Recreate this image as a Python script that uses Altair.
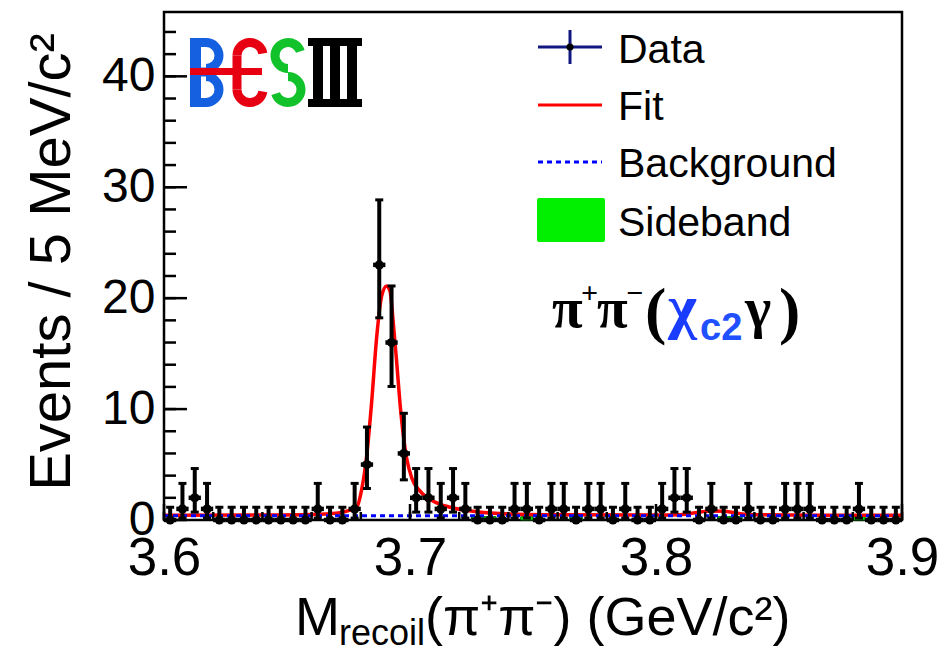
import math
import altair as alt
import pandas as pd

# ---------------- data ----------------
BIN_W = 0.005
MASS = [round(3.6025 + BIN_W * i, 4) for i in range(60)]  # bin centres (GeV/c^2)
COUNTS = [0, 1, 2, 1, 0, 0, 0, 0, 0, 0,
          0, 0, 1, 0, 0, 1, 5, 23, 16, 6,
          2, 2, 1, 2, 1, 0, 0, 0, 1, 1,
          0, 1, 1, 0, 1, 1, 0, 1, 0, 0,
          1, 2, 2, 0, 1, 0, 0, 1, 0, 0,
          1, 1, 1, 0, 0, 0, 1, 0, 0, 0]
# asymmetric error bars (lower, upper), by bin content
ERR = {0: (0.0, 1.15), 1: (0.83, 2.30), 2: (1.29, 2.64), 5: (2.16, 3.38),
       6: (2.38, 3.62), 16: (3.96, 5.10), 23: (4.77, 5.86)}

FIT_X = [3.600, 3.640, 3.660, 3.670, 3.675, 3.6783, 3.6804, 3.6824, 3.6844, 3.6865,
         3.6885, 3.6905, 3.6919, 3.6932, 3.6946, 3.6959, 3.6973, 3.6987, 3.7007, 3.7041,
         3.7095, 3.7163, 3.7271, 3.740, 3.760, 3.800, 3.810, 3.816, 3.822, 3.828,
         3.834, 3.840, 3.870, 3.900]
FIT_Y = [0.42, 0.45, 0.50, 0.60, 0.85, 1.14, 2.8, 5.8, 10.6, 16.6,
         20.2, 21.1, 20.6, 17.8, 14.2, 10.6, 7.6, 5.5, 3.8, 2.6,
         1.7, 1.15, 0.75, 0.55, 0.48, 0.45, 0.48, 0.65, 0.82, 0.78,
         0.58, 0.47, 0.43, 0.42]
BKG_X = [3.600, 3.900]
BKG_Y = [0.39, 0.39]
SB_BINS = [25, 26, 29, 33, 45, 46, 56]
SB_VALS = [0.3, 0.3, 0.3, 0.3, 0.3, 0.3, 0.3]

X_TICKS = [3.6, 3.7, 3.8, 3.9]
Y_TICKS = [0, 10, 20, 30, 40]

# ---------------- layout ----------------
X0, Y0 = 164, 12
W, H = 738, 508
BLUE, RED, GREEN = "#1560e0", "#e60012", "#12c22a"
SANS, SERIF = "Liberation Sans", "Liberation Serif"

xscale = alt.Scale(domain=[3.6, 3.9], nice=False, zero=False)
yscale = alt.Scale(domain=[0, 45.8], nice=False, zero=False)
xaxis = alt.Axis(values=X_TICKS, format=".1f", ticks=False, tickSize=0, domain=False, grid=False,
                 labelFontSize=53, labelFont=SANS, labelColor="black", labelPadding=12,
                 labelFlush=False, labelOverlap=False, title=None)
yaxis = alt.Axis(values=Y_TICKS, format="d", ticks=False, tickSize=0, domain=False, grid=False,
                 labelFontSize=48, labelFont=SANS, labelColor="black", labelPadding=9,
                 labelOverlap=False, title=None)

ddf = pd.DataFrame({"m": MASS, "n": COUNTS})
ddf["lo"] = [n - ERR[n][0] for n in COUNTS]
ddf["hi"] = [n + ERR[n][1] for n in COUNTS]
ddf["ml"] = ddf["m"] - BIN_W / 2
ddf["mr"] = ddf["m"] + BIN_W / 2

fit_df = pd.DataFrame({"x": FIT_X, "y": FIT_Y})
bkg_df = pd.DataFrame({"x": BKG_X, "y": BKG_Y})
sb_df = pd.DataFrame({"a": [3.6 + BIN_W * b for b in SB_BINS],
                      "b": [3.6 + BIN_W * (b + 1) for b in SB_BINS],
                      "z": [0] * len(SB_BINS), "v": SB_VALS})

sideband = alt.Chart(sb_df).mark_rect(fill="#00ee00", stroke="#006a00", strokeWidth=1).encode(
    x=alt.X("a:Q", scale=xscale, axis=xaxis), x2="b:Q",
    y=alt.Y("z:Q", scale=yscale, axis=yaxis), y2="v:Q")
fit = alt.Chart(fit_df).mark_line(color="#ff0000", strokeWidth=3.5, interpolate="monotone").encode(
    x=alt.X("x:Q", scale=xscale), y=alt.Y("y:Q", scale=yscale))
bkg = alt.Chart(bkg_df).mark_line(color="#0000ff", strokeWidth=3, strokeDash=[5, 4]).encode(
    x=alt.X("x:Q", scale=xscale), y=alt.Y("y:Q", scale=yscale))

# inward ticks
ymaj = alt.Chart(pd.DataFrame({"v": Y_TICKS})).mark_rule(color="black", strokeWidth=2.5).encode(
    y=alt.Y("v:Q", scale=yscale), x=alt.value(0), x2=alt.value(23))
ymin = alt.Chart(pd.DataFrame({"v": list(range(0, 46, 2))})).mark_rule(color="black", strokeWidth=2.5).encode(
    y=alt.Y("v:Q", scale=yscale), x=alt.value(0), x2=alt.value(12))
xmaj = alt.Chart(pd.DataFrame({"v": X_TICKS})).mark_rule(color="black", strokeWidth=2.5).encode(
    x=alt.X("v:Q", scale=xscale), y=alt.value(H), y2=alt.value(H - 16))
xmin = alt.Chart(pd.DataFrame({"v": [round(3.6 + 0.02 * i, 2) for i in range(16)]})).mark_rule(
    color="black", strokeWidth=2.5).encode(
    x=alt.X("v:Q", scale=xscale), y=alt.value(H), y2=alt.value(H - 8))

base = alt.Chart(ddf)
vbar = base.mark_rule(color="black", strokeWidth=4).encode(
    x=alt.X("m:Q", scale=xscale), y=alt.Y("lo:Q", scale=yscale), y2="hi:Q")
hbar = base.mark_rule(color="black", strokeWidth=4.5).encode(
    x=alt.X("ml:Q", scale=xscale), x2="mr:Q", y=alt.Y("n:Q", scale=yscale))
cap_hi = base.mark_tick(orient="horizontal", size=8, thickness=3, color="black", opacity=1).encode(
    x=alt.X("m:Q", scale=xscale), y=alt.Y("hi:Q", scale=yscale))
cap_lo = base.mark_tick(orient="horizontal", size=8, thickness=3, color="black", opacity=1).encode(
    x=alt.X("m:Q", scale=xscale), y=alt.Y("lo:Q", scale=yscale))
dots = base.mark_circle(color="black", size=85, opacity=1).encode(
    x=alt.X("m:Q", scale=xscale), y=alt.Y("n:Q", scale=yscale))


# ---------------- annotations (pixel positions) ----------------
def P(rows, cols):
    out = []
    for r in rows:
        d = dict(zip(cols, r))
        for k in ("x", "x1", "x2", "cx"):
            if k in d:
                d[k] = d[k] - X0
        for k in ("y", "y1", "y2", "cy"):
            if k in d:
                d[k] = d[k] - Y0
        out.append(d)
    return pd.DataFrame(out)


def px_x(f):
    return alt.X(f, scale=None, axis=None)


def px_y(f):
    return alt.Y(f, scale=None, axis=None)


def text_layer(rows, font, weight="normal", angle=0, align="left", baseline="alphabetic"):
    df = P(rows, ["t", "x", "y", "s", "c"])
    kw = dict(font=font, fontWeight=weight, align=align, baseline=baseline)
    if angle:
        kw["angle"] = angle
    return alt.Chart(df).mark_text(**kw).encode(
        x=px_x("x:Q"), y=px_y("y:Q"), text="t:N",
        size=alt.Size("s:Q", scale=None, legend=None),
        color=alt.Color("c:N", scale=None, legend=None))


def rule_layer(rows, dash=None):
    df = P(rows, ["x1", "y1", "x2", "y2", "c", "w"])
    kw = {}
    if dash:
        kw["strokeDash"] = dash
    return alt.Chart(df).mark_rule(**kw).encode(
        x=px_x("x1:Q"), x2="x2:Q", y=px_y("y1:Q"), y2="y2:Q",
        color=alt.Color("c:N", scale=None, legend=None),
        strokeWidth=alt.StrokeWidth("w:Q", scale=None, legend=None))


legend_rules = rule_layer([
    (538, 47, 602, 47, "#101880", 3),
    (570, 30, 570, 64, "#101880", 3),
    (538, 105, 602, 105, "#ff0000", 3),
])
legend_dash = rule_layer([(538, 162, 602, 162, "#0000ff", 3)], dash=[5, 4])
legend_dot = alt.Chart(P([(570, 47)], ["x", "y"])).mark_circle(color="black", size=50, opacity=1).encode(
    x=px_x("x:Q"), y=px_y("y:Q"))
legend_box = alt.Chart(P([(537, 198, 605, 242)], ["x1", "y1", "x2", "y2"])).mark_rect(
    fill="#00f000", cornerRadius=2).encode(x=px_x("x1:Q"), x2="x2:Q", y=px_y("y1:Q"), y2="y2:Q")
legend_text = text_layer([
    ("Data", 618, 63, 41, "black"),
    ("Fit", 618, 120, 41, "black"),
    ("Background", 618, 177, 41, "black"),
    ("Sideband", 618, 236, 41, "black"),
], SANS)

xtitle = text_layer([
    ("M", 295, 635, 54, "black"),
    ("recoil", 339, 645, 36, "black"),
    ("(π⁺π⁻) (GeV/c²)", 425, 635, 54, "black"),
], SANS)
ytitle = text_layer([("Events / 5 MeV/c²", 70, 262, 58, "black")], SANS, angle=270,
                    align="center", baseline="alphabetic")

anno_serif = text_layer([
    ("π", 552, 327, 56, "black"),
    ("+", 581, 303, 30, "black"),
    ("π", 597, 327, 56, "black"),
    ("−", 626, 303, 30, "black"),
    ("(", 645, 332, 64, "black"),
    ("χ", 668, 327, 62, "#1a3cff"),
    ("γ", 745, 327, 56, "black"),
    (")", 779, 332, 64, "black"),
], SERIF, weight="bold")
anno_sans = text_layer([("c2", 700, 340, 38, "#2050ff")], SANS, weight="bold")

# BESIII logo
PI = math.pi
arcs = alt.Chart(P([
    (206, 55.5, 17.5, 8.5, 0.0, PI, BLUE),
    (206, 89.5, 17.5, 8.5, 0.0, PI, BLUE),
    (250, 55.5, 17.5, 8.5, 1.5 * PI, 2.45 * PI, RED),
    (250, 89.5, 17.5, 8.5, 0.55 * PI, 1.5 * PI, RED),
    (288, 55.5, 17.5, 8.5, PI, 2.4 * PI, GREEN),
    (288, 89.5, 17.5, 8.5, 0.0, 1.4 * PI, GREEN),
], ["cx", "cy", "ro", "ri", "t1", "t2", "c"])).mark_arc().encode(
    x=px_x("cx:Q"), y=px_y("cy:Q"),
    radius=alt.Radius("ro:Q", scale=None), radius2=alt.Radius2("ri:Q"),
    theta=alt.Theta("t1:Q", scale=None, stack=None), theta2=alt.Theta2("t2:Q"),
    color=alt.Color("c:N", scale=None, legend=None))
logo_rules = rule_layer([
    (195.5, 38, 195.5, 107, BLUE, 11),
    (195, 42.5, 207, 42.5, BLUE, 9),
    (195, 72, 207, 72, BLUE, 9),
    (195, 102.5, 207, 102.5, BLUE, 9),
    (237, 55.5, 237, 89.5, RED, 9),
    (308, 42, 362, 42, "black", 8),
    (308, 103, 362, 103, "black", 8),
    (318, 38, 318, 107, "black", 10),
    (335, 38, 335, 107, "black", 10),
    (352, 38, 352, 107, "black", 10),
])
logo_bar = rule_layer([(190, 71.5, 262, 71.5, RED, 7)])

chart = alt.layer(
    sideband, fit, bkg, ymaj, ymin, xmaj, xmin,
    vbar, hbar, cap_hi, cap_lo, dots,
    legend_rules, legend_dash, legend_dot, legend_box, legend_text,
    xtitle, ytitle, anno_serif, anno_sans,
    arcs, logo_rules, logo_bar,
).properties(
    width=W, height=H,
    padding={"left": X0, "top": Y0, "right": 945 - X0 - W, "bottom": 654 - Y0 - H},
    autosize=alt.AutoSizeParams(type="none"),
    background="white",
).configure_view(stroke="black", strokeWidth=2.5)

chart.save("out.html", embed_options={"renderer": "svg", "actions": False})
